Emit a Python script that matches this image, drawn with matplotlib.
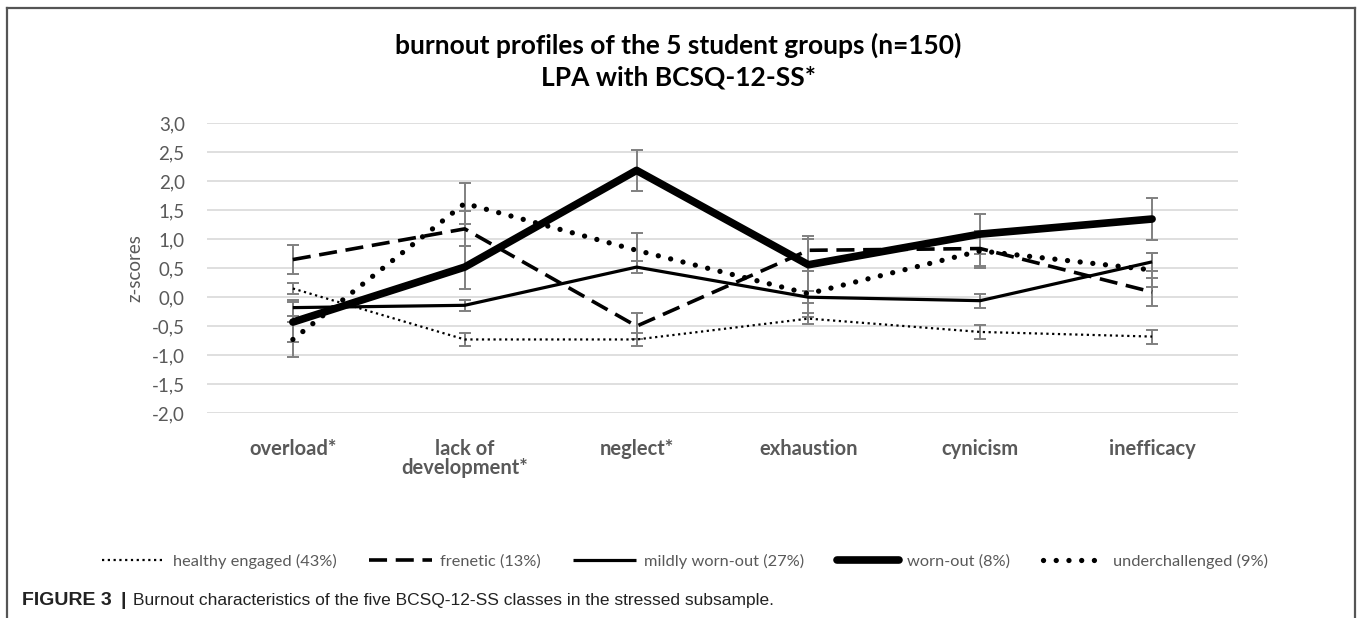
import matplotlib
matplotlib.use('Agg')
import matplotlib.pyplot as plt
from matplotlib.lines import Line2D

# Dimensões do burnout (eixo x)
dimensoes = ['overload*', 'lack of\ndevelopment*', 'neglect*', 'exhaustion', 'cynicism', 'inefficacy']

# Nomes dos perfis (legenda)
grupos = ['healthy engaged (43%)', 'frenetic (13%)', 'mildly worn-out (27%)',
          'worn-out (8%)', 'underchallenged (9%)']

# Médias em z-score por perfil
healthy = [0.15, -0.73, -0.73, -0.37, -0.60, -0.68]
frenetic = [0.65, 1.18, -0.50, 0.81, 0.84, 0.09]
mildly = [-0.18, -0.14, 0.52, 0.00, -0.06, 0.61]
worn_out = [-0.43, 0.52, 2.19, 0.56, 1.09, 1.35]
underchallenged = [-0.73, 1.62, 0.81, 0.06, 0.80, 0.47]

# Barras de erro (aprox.)
err_healthy = [0.10, 0.12, 0.12, 0.10, 0.12, 0.12]
err_frenetic = [0.25, 0.30, 0.23, 0.25, 0.30, 0.25]
err_mildly = [0.14, 0.10, 0.10, 0.10, 0.12, 0.15]
err_worn_out = [0.34, 0.37, 0.36, 0.45, 0.35, 0.37]
err_underchallenged = [0.30, 0.35, 0.30, 0.40, 0.30, 0.30]

yticks = [3.0, 2.5, 2.0, 1.5, 1.0, 0.5, 0.0, -0.5, -1.0, -1.5, -2.0]

plt.rcParams['font.family'] = ['Lato', 'DejaVu Sans']

fig = plt.figure(figsize=(13.57, 6.18), dpi=100)
ax = fig.add_axes([0.1525, 0.3317, 0.7598, 0.4685])

x = list(range(len(dimensoes)))

estilos = [
    dict(data=healthy, err=err_healthy, lw=1.6, ls=(0, (1, 1.6)), cap='butt'),
    dict(data=frenetic, err=err_frenetic, lw=2.6, ls=(0, (5, 2.4)), cap='butt'),
    dict(data=mildly, err=err_mildly, lw=2.3, ls='-', cap='butt'),
    dict(data=worn_out, err=err_worn_out, lw=5.5, ls='-', cap='round'),
    dict(data=underchallenged, err=err_underchallenged, lw=3.8, ls=(0, (0.01, 2.4)), cap='round'),
]

for nome, e in zip(grupos, estilos):
    ax.errorbar(x, e['data'], yerr=e['err'], fmt='none', ecolor='#808080',
                elinewidth=1.4, capsize=4, capthick=1.4, zorder=2)
    ax.plot(x, e['data'], color='black', lw=e['lw'], linestyle=e['ls'],
            dash_capstyle=e['cap'], solid_capstyle=e['cap'], label=nome, zorder=3)

ax.set_xlim(-0.5, len(dimensoes) - 0.5)
ax.set_ylim(-2.0, 3.0)
ax.set_yticks(yticks)
ax.set_yticklabels([f'{v:.1f}'.replace('.', ',') for v in yticks])
ax.set_xticks(x)
ax.set_xticklabels(dimensoes, fontweight='bold', fontsize=14.5, color='#595959',
                   linespacing=0.92)
ax.tick_params(axis='x', length=0, pad=19)
ax.tick_params(axis='y', length=0, pad=16, labelsize=13.5, labelcolor='#595959')
ax.grid(axis='y', color='#d9d9d9', lw=1.2)
ax.set_axisbelow(True)
for s in ax.spines.values():
    s.set_visible(False)

ax.set_ylabel('z-scores', fontsize=13.5, color='#595959', labelpad=6)

fig.text(0.5, 0.927, 'burnout profiles of the 5 student groups (n=150)', ha='center',
         va='center', fontsize=19, fontweight='bold', color='black')
fig.text(0.5, 0.875, 'LPA with BCSQ-12-SS*', ha='center', va='center',
         fontsize=19, fontweight='bold', color='black')

leg = fig.legend(loc='center', bbox_to_anchor=(0.505, 0.092), ncol=5, frameon=False,
                 fontsize=11.8, handlelength=3.8, columnspacing=2.0, handletextpad=0.5)
for t in leg.get_texts():
    t.set_color('#595959')

# Legenda da figura
cap_fonte = ['Liberation Sans', 'DejaVu Sans']
fig.text(22 / 1357, 0.029, 'FIGURE 3', ha='left', va='center', fontsize=14,
         fontweight='bold', family=cap_fonte, color='#222222')
fig.text(121 / 1357, 0.029, '|', ha='left', va='center', fontsize=14,
         fontweight='bold', family=cap_fonte, color='#222222')
fig.text(133 / 1357, 0.029, 'Burnout characteristics of the five BCSQ-12-SS classes in the stressed subsample.',
         ha='left', va='center', fontsize=12.5, family=cap_fonte, color='#222222')

# Moldura
W, H = 1357, 618
fig.add_artist(Line2D([7 / W, 7 / W], [0, 1 - 8 / H], color='#555555', lw=1.6))
fig.add_artist(Line2D([7 / W, 1355 / W], [1 - 8 / H, 1 - 8 / H], color='#555555', lw=1.6))
fig.add_artist(Line2D([1355 / W, 1355 / W], [0, 1 - 8 / H], color='#555555', lw=1.6))

fig.savefig('out.png', dpi=100)
